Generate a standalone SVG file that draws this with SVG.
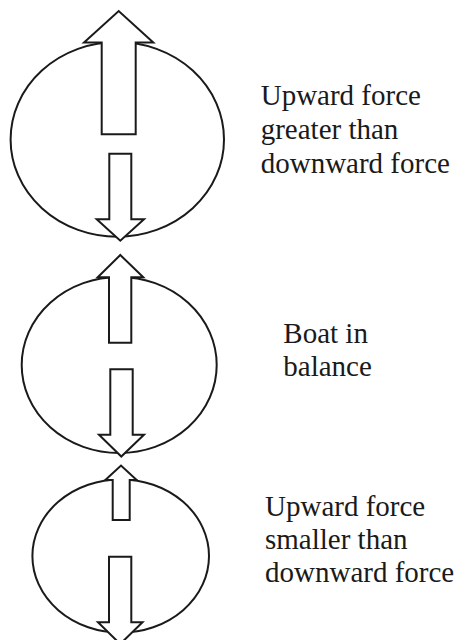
<svg xmlns="http://www.w3.org/2000/svg" width="459" height="640" viewBox="0 0 459 640">
<style>
.e{fill:none;stroke:#1a1a1a;stroke-width:2}
.a{fill:#fff;stroke:#1a1a1a;stroke-width:2;stroke-linejoin:miter}
.t{font-family:"Liberation Serif","Times New Roman",serif;font-size:29px;fill:#1a1a1a}
</style>
<rect width="459" height="640" fill="#fff"/>
<g id="boat1">
<ellipse class="e" cx="117.3" cy="139.4" rx="106.7" ry="97.3"/>
</g>
<g id="boat2">
<ellipse class="e" cx="119.2" cy="365" rx="97.5" ry="88"/>
</g>
<g id="boat3">
<ellipse class="e" cx="120.7" cy="556" rx="88.3" ry="76.6"/>
</g>
<g id="connectors">
<polygon id="up1" class="a" points="101.7,134.3 101.7,42.5 84,42.5 118.7,11 153.3,42.5 135.7,42.5 135.7,134.3"/>
<polygon id="down1" class="a" points="109.3,153.7 131.3,153.7 131.3,219.3 144,219.3 120.3,240.7 96.7,219.3 109.3,219.3"/>
<polygon id="up2" class="a" points="109,342.7 109,277.3 97.7,277.3 120.3,255 143.3,277.3 131.3,277.3 131.3,342.7"/>
<polygon id="down2" class="a" points="110.3,369.3 132.7,369.3 132.7,434.7 144,434.7 121.3,456.5 99,434.7 110.3,434.7"/>
<polygon id="up3" class="a" points="112.7,520 112.7,480 105.3,480 121,465.5 136.7,480 129.7,480 129.7,520"/>
<polygon id="down3" class="a" points="109,556.7 131.3,556.7 131.3,622.3 142.5,622.3 120.2,644 98,622.3 109,622.3"/>
</g>
<g id="label1">
<text class="t" x="260.7" y="105">Upward force</text>
<text class="t" x="260.7" y="139.3">greater than</text>
<text class="t" x="260.7" y="173.3">downward force</text>
</g>
<g id="label2">
<text class="t" x="283.3" y="342.7">Boat in</text>
<text class="t" x="283.3" y="376">balance</text>
</g>
<g id="label3">
<text class="t" x="265" y="516">Upward force</text>
<text class="t" x="265" y="549.3">smaller than</text>
<text class="t" x="265" y="581.7">downward force</text>
</g>
</svg>
